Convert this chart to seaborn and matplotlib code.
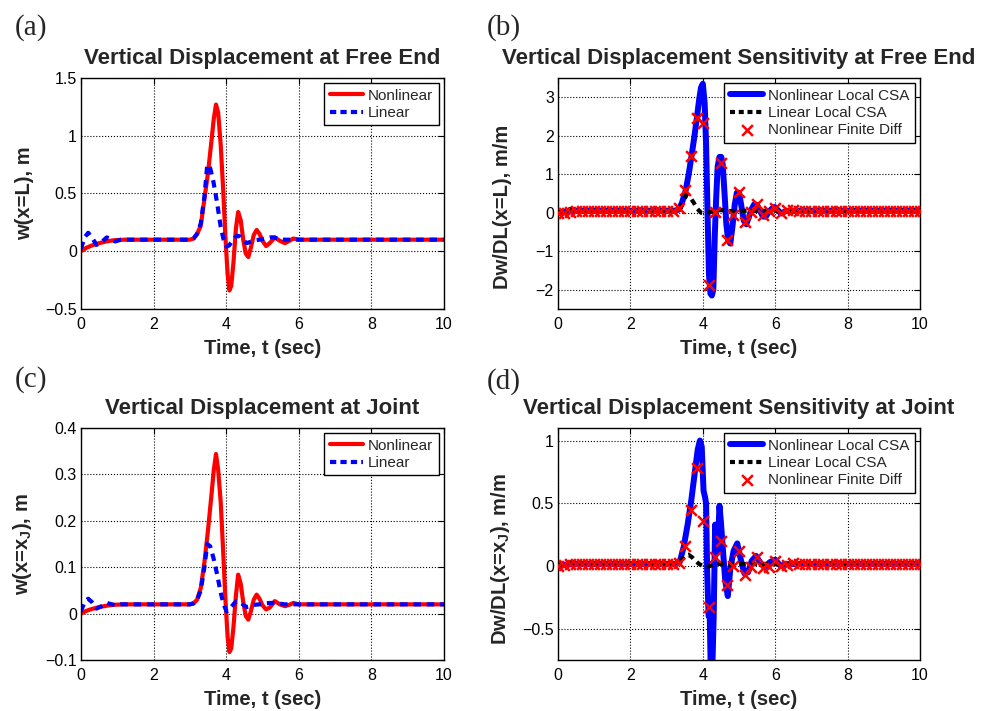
import matplotlib

matplotlib.use("Agg")
import matplotlib.pyplot as plt
import seaborn as sns

# ---- panel (a)/(c): displacement, nonlinear vs linear ----
t_nl = [0, 0.15, 0.3, 0.5, 0.7, 0.9, 1.2,
        3.0, 3.1, 3.2, 3.3, 3.4, 3.5, 3.6, 3.66, 3.72,
        3.78, 3.85, 3.92, 3.98, 4.04, 4.09, 4.14, 4.2, 4.27, 4.33,
        4.4, 4.47, 4.54, 4.61, 4.68, 4.76, 4.84, 4.92, 5.0, 5.1,
        5.2, 5.34, 5.48, 5.62, 5.74, 5.85, 6.0, 6.2, 10]
w_free_nl = [0, 0.03, 0.05, 0.07, 0.085, 0.095, 0.1,
             0.1, 0.11, 0.15, 0.22, 0.45, 0.68, 0.97, 1.15, 1.27,
             1.2, 0.92, 0.52, 0.12, -0.2, -0.34, -0.3, -0.1, 0.2, 0.34,
             0.27, 0.1, -0.02, -0.05, 0.03, 0.14, 0.185, 0.15, 0.09, 0.045,
             0.07, 0.12, 0.09, 0.07, 0.09, 0.11, 0.1, 0.1, 0.1]
w_joint_nl = [0, 0.006, 0.01, 0.014, 0.017, 0.019, 0.02,
              0.02, 0.022, 0.03, 0.055, 0.11, 0.18, 0.26, 0.31, 0.344,
              0.31, 0.24, 0.13, 0.03, -0.05, -0.083, -0.075, -0.03, 0.04, 0.084,
              0.065, 0.025, -0.005, -0.013, 0.005, 0.03, 0.041, 0.032, 0.018, 0.009,
              0.013, 0.027, 0.02, 0.016, 0.019, 0.023, 0.02, 0.02, 0.02]

t_lin = [0, 0.1, 0.2, 0.3, 0.43, 0.57, 0.71, 0.85, 0.94, 1.1, 1.3,
         3.0, 3.1, 3.2, 3.3, 3.4, 3.48, 3.56, 3.65, 3.75, 3.85,
         3.93, 4.01, 4.08, 4.15, 4.22, 4.29, 4.37, 4.46, 4.56, 4.66,
         4.78, 4.92, 5.06, 5.2, 5.3, 5.45, 5.6, 5.8, 6.0, 10]
w_free_lin = [0.02, 0.12, 0.16, 0.12, 0.055, 0.08, 0.12, 0.1, 0.085, 0.1, 0.1,
              0.1, 0.11, 0.15, 0.24, 0.47, 0.75, 0.72, 0.6, 0.42, 0.21,
              0.1, 0.04, 0.05, 0.08, 0.11, 0.135, 0.13, 0.1, 0.07, 0.08,
              0.095, 0.1, 0.11, 0.12, 0.12, 0.11, 0.1, 0.1, 0.1, 0.1]
w_joint_lin = [0.005, 0.025, 0.032, 0.025, 0.011, 0.016, 0.023, 0.02, 0.018, 0.02, 0.02,
               0.02, 0.022, 0.03, 0.05, 0.1, 0.15, 0.145, 0.12, 0.085, 0.045,
               0.02, 0.005, 0.008, 0.015, 0.022, 0.027, 0.026, 0.02, 0.014, 0.016,
               0.019, 0.02, 0.022, 0.023, 0.023, 0.022, 0.02, 0.02, 0.02, 0.02]

# ---- panel (b): sensitivity at free end ----
t_free_csa = [0, 0.2, 0.4, 3.2, 3.33, 3.42, 3.52, 3.61, 3.7, 3.77,
              3.84, 3.9, 3.95, 4.0, 4.05, 4.09, 4.13, 4.17, 4.21, 4.25,
              4.29, 4.33, 4.37, 4.41, 4.46, 4.51, 4.55, 4.6, 4.65, 4.7,
              4.76, 4.82, 4.88, 4.94, 5.0, 5.06, 5.13, 5.2, 5.27, 5.34,
              5.42, 5.5, 5.58, 5.66, 5.74, 5.82, 5.9, 5.98, 6.06, 6.16,
              6.3, 6.45, 10]
s_free_nl = [0.0, 0.03, 0.05, 0.05, 0.08, 0.25, 0.55, 1.0, 1.55, 2.0,
             2.5, 2.95, 3.25, 3.35, 2.85, 1.8, 0.0, -1.6, -2.1, -2.15,
             -2.0, -0.6, 0.4, 1.2, 1.45, 1.45, 1.25, 0.5, -0.3, -0.72,
             -0.8, -0.35, 0.2, 0.52, 0.52, 0.2, -0.2, -0.3, -0.12, 0.08,
             0.22, 0.2, 0.05, -0.1, -0.1, 0.02, 0.1, 0.15, 0.08, -0.02,
             0.05, 0.05, 0.05]

t_free_lin = [0, 0.2, 0.35, 0.5, 0.7, 3.25, 3.38, 3.47, 3.55, 3.65, 3.75,
              3.85, 3.95, 4.05, 4.2, 4.35, 4.5, 4.65, 4.8, 5.0, 10]
s_free_lin = [0.0, 0.05, 0.1, 0.05, 0.05, 0.05, 0.1, 0.3, 0.47, 0.4, 0.26,
              0.1, 0.0, -0.02, 0.02, 0.05, 0.07, 0.05, 0.04, 0.05, 0.05]

# ---- panel (d): sensitivity at joint ----
t_joint_csa = [0, 0.2, 0.4, 3.25, 3.36, 3.47, 3.58, 3.68, 3.78, 3.86,
               3.92, 3.97, 4.02, 4.06, 4.09, 4.12, 4.16, 4.19, 4.22, 4.26,
               4.3, 4.34, 4.38, 4.42, 4.46, 4.5, 4.55, 4.62, 4.69, 4.76,
               4.85, 4.95, 5.05, 5.15, 5.25, 5.35, 5.47, 5.58, 5.7, 5.85,
               6.0, 6.15, 6.3, 10]
s_joint_nl = [0.005, 0.01, 0.015, 0.015, 0.03, 0.15, 0.33, 0.52, 0.75, 0.93,
              1.0, 0.95, 0.6, 0.55, 0.5, -0.05, -0.4, -0.38, -0.85, -0.85,
              -0.4, 0.33, 0.1, 0.2, 0.48, 0.35, 0.15, -0.12, -0.24, -0.02,
              0.12, 0.18, 0.05, -0.06, -0.05, 0.04, 0.08, 0.03, -0.01, 0.03,
              0.05, 0.0, 0.015, 0.015]

t_joint_lin = [0, 0.2, 0.35, 0.5, 0.7, 3.3, 3.42, 3.52, 3.6, 3.7,
               3.8, 3.9, 4.0, 4.1, 4.2, 4.35, 4.5, 4.7, 5.0, 10]
s_joint_lin = [0.005, 0.015, 0.03, 0.015, 0.015, 0.015, 0.05, 0.085, 0.09, 0.07,
               0.04, 0.015, 0.0, -0.01, 0.0, 0.02, 0.015, 0.01, 0.015, 0.015]

# ---- finite difference check points (every 1/6 s) ----
fd_t = [0, 0.17, 0.33, 0.5, 0.67, 0.83, 1.0, 1.17, 1.33, 1.5,
        1.67, 1.83, 2.0, 2.17, 2.33, 2.5, 2.67, 2.83, 3.0, 3.17,
        3.33, 3.5, 3.67, 3.83, 4.0, 4.17, 4.33, 4.5, 4.67, 4.83,
        5.0, 5.17, 5.33, 5.5, 5.67, 5.83, 6.0, 6.17, 6.33, 6.5,
        6.67, 6.83, 7.0, 7.17, 7.33, 7.5, 7.67, 7.83, 8.0, 8.17,
        8.33, 8.5, 8.67, 8.83, 9.0, 9.17, 9.33, 9.5, 9.67, 9.83, 10.0]
fd_free = [0.0, 0.0, 0.03, 0.05, 0.05, 0.05, 0.05, 0.05, 0.05, 0.05,
           0.05, 0.05, 0.05, 0.05, 0.05, 0.05, 0.05, 0.05, 0.05, 0.05,
           0.13, 0.58, 1.48, 2.47, 2.32, -1.87, 0.03, 1.3, -0.72, -0.05,
           0.55, -0.25, 0.02, 0.23, -0.05, 0.04, 0.13, -0.01, 0.06, 0.08,
           0.05, 0.05, 0.05, 0.05, 0.05, 0.05, 0.05, 0.05, 0.05, 0.05,
           0.05, 0.05, 0.05, 0.05, 0.05, 0.05, 0.05, 0.05, 0.05, 0.05, 0.05]
fd_joint = [0.0, 0.01, 0.015, 0.015, 0.015, 0.015, 0.015, 0.015, 0.015, 0.015,
            0.015, 0.015, 0.015, 0.015, 0.015, 0.015, 0.015, 0.015, 0.015, 0.015,
            0.02, 0.16, 0.45, 0.78, 0.36, -0.33, 0.07, 0.2, -0.15, 0.0,
            0.12, -0.07, -0.01, 0.07, -0.02, -0.01, 0.04, 0.0, 0.01, 0.02,
            0.015, 0.015, 0.015, 0.015, 0.015, 0.015, 0.015, 0.015, 0.015, 0.015,
            0.015, 0.015, 0.015, 0.015, 0.015, 0.015, 0.015, 0.015, 0.015, 0.015, 0.015]

x_ticks = [0, 2, 4, 6, 8, 10]


def _fmt(v, _):
    return f"{v:g}".replace("-", "\u2212")


def _style(ax, ylim, yticks, title, ylabel, ylabel_y):
    ax.set_xlim(0, 10)
    ax.set_ylim(*ylim)
    ax.set_xticks(x_ticks)
    ax.set_yticks(yticks)
    ax.xaxis.set_major_formatter(plt.FuncFormatter(_fmt))
    ax.yaxis.set_major_formatter(plt.FuncFormatter(_fmt))
    ax.grid(True, linestyle=":", color="black", linewidth=0.8)
    ax.tick_params(direction="in", top=True, right=True, length=4, width=0.8,
                   labelsize=11.5, colors="black")
    ax.tick_params(axis="x", pad=6)
    ax.tick_params(axis="y", pad=3)
    for spine in ax.spines.values():
        spine.set_color("black")
        spine.set_linewidth(1.0)
    ax.set_title(title, fontsize=16, fontweight="bold", pad=10)
    ax.set_xlabel("Time, t (sec)", fontsize=14.5, fontweight="bold", labelpad=5)
    ax.set_ylabel(ylabel, fontsize=14.5, fontweight="bold")
    ax.yaxis.set_label_coords(-0.128, ylabel_y)


def _legend(ax):
    leg = ax.legend(loc="upper right", fontsize=11, frameon=True, fancybox=False,
                    edgecolor="black", framealpha=1, borderaxespad=0.35,
                    handlelength=2.2, handletextpad=0.3, labelspacing=0.22,
                    borderpad=0.35, scatterpoints=1)
    leg.get_frame().set_linewidth(1.0)


def _disp_panel(ax, w_nl, w_lin, ylim, yticks, title, ylabel):
    sns.lineplot(x=t_nl, y=w_nl, ax=ax, color="red", linewidth=3.0,
                 label="Nonlinear", sort=False, estimator=None)
    sns.lineplot(x=t_lin, y=w_lin, ax=ax, color="blue", linewidth=3.0,
                 label="Linear", sort=False, estimator=None)
    ax.lines[-1].set_dashes([1.8, 1.4])
    _style(ax, ylim, yticks, title, ylabel, 0.5)
    _legend(ax)
    ax.get_legend().get_lines()[1].set_dashes([1.5, 1.0])


def _sens_panel(ax, t_csa, s_nl, t_l, s_l, fd, ylim, yticks, title, ylabel, ylabel_y):
    sns.lineplot(x=t_csa, y=s_nl, ax=ax, color="blue", linewidth=4.3,
                 label="Nonlinear Local CSA", sort=False, estimator=None)
    sns.lineplot(x=t_l, y=s_l, ax=ax, color="black", linewidth=3.0,
                 label="Linear Local CSA", sort=False, estimator=None)
    ax.lines[-1].set_dashes([1.5, 1.2])
    sns.scatterplot(x=fd_t, y=fd, ax=ax, marker="x", color="red", s=60,
                    linewidth=1.8, label="Nonlinear Finite Diff", zorder=4)
    _style(ax, ylim, yticks, title, ylabel, ylabel_y)
    _legend(ax)
    ax.get_legend().get_lines()[1].set_dashes([1.2, 0.9])


def main():
    sns.set_theme(style="white")
    plt.rcParams["font.family"] = ["Liberation Sans", "DejaVu Sans"]
    plt.rcParams["mathtext.fontset"] = "custom"
    plt.rcParams["mathtext.bf"] = "Liberation Sans:bold"
    plt.rcParams["mathtext.rm"] = "Liberation Sans"

    fig = plt.figure(figsize=(9.97, 7.11), dpi=100)
    ax_a = fig.add_axes([0.0812, 0.5654, 0.3641, 0.3249])
    ax_b = fig.add_axes([0.5597, 0.5654, 0.3631, 0.3249])
    ax_c = fig.add_axes([0.0812, 0.0717, 0.3641, 0.3263])
    ax_d = fig.add_axes([0.5597, 0.0717, 0.3631, 0.3263])

    _disp_panel(ax_a, w_free_nl, w_free_lin, (-0.5, 1.5), [-0.5, 0, 0.5, 1, 1.5],
                "Vertical Displacement at Free End", "w(x=L), m")
    _disp_panel(ax_c, w_joint_nl, w_joint_lin, (-0.1, 0.4), [-0.1, 0, 0.1, 0.2, 0.3, 0.4],
                "Vertical Displacement at Joint", r"w(x=x$_\mathbf{J}$), m")
    _sens_panel(ax_b, t_free_csa, s_free_nl, t_free_lin, s_free_lin, fd_free,
                (-2.5, 3.5), [-2, -1, 0, 1, 2, 3],
                "Vertical Displacement Sensitivity at Free End", "Dw/DL(x=L), m/m", 0.44)
    _sens_panel(ax_d, t_joint_csa, s_joint_nl, t_joint_lin, s_joint_lin, fd_joint,
                (-0.75, 1.1), [-0.5, 0, 0.5, 1],
                "Vertical Displacement Sensitivity at Joint",
                r"Dw/DL(x=x$_\mathbf{J}$), m/m", 0.435)

    for x, y, lab in [(0.015, 0.951, "(a)"), (0.4885, 0.951, "(b)"),
                      (0.015, 0.456, "(c)"), (0.4885, 0.454, "(d)")]:
        fig.text(x, y, lab, family="Liberation Serif", fontsize=21, va="baseline")

    fig.savefig("out.png", dpi=100)
    plt.close(fig)


if __name__ == "__main__":
    main()
